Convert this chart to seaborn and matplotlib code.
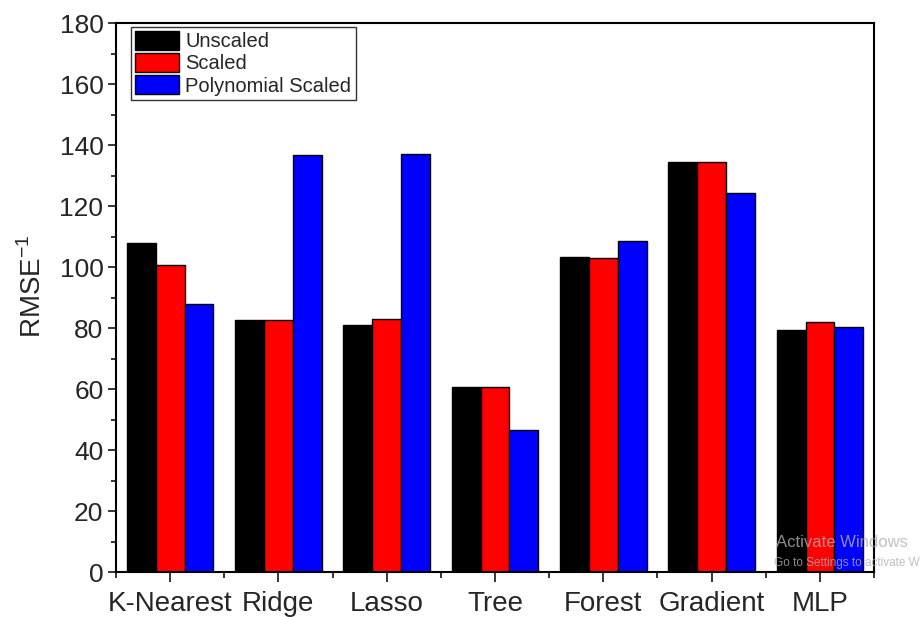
import matplotlib
matplotlib.use("Agg")
import matplotlib.pyplot as plt
import seaborn as sns
import pandas as pd
from matplotlib.ticker import MultipleLocator, FixedLocator

categories = ["K-Nearest", "Ridge", "Lasso", "Tree", "Forest", "Gradient", "MLP"]
unscaled = [108.0, 82.7, 80.9, 60.7, 103.2, 134.4, 79.4]
scaled = [100.8, 82.7, 83.0, 60.6, 103.0, 134.4, 81.9]
poly_scaled = [87.9, 136.8, 137.0, 46.5, 108.4, 124.4, 80.3]
series_names = ["Unscaled", "Scaled", "Polynomial Scaled"]
series_colors = ["#000000", "#ff0000", "#0000ff"]
y_ticks = [0, 20, 40, 60, 80, 100, 120, 140, 160, 180]

rows = []
for name, vals in zip(series_names, [unscaled, scaled, poly_scaled]):
    for c, v in zip(categories, vals):
        rows.append({"Model": c, "Series": name, "RMSE": v})
df = pd.DataFrame(rows)

sns.set_style("ticks")
plt.rcParams["font.family"] = ["Liberation Sans", "DejaVu Sans"]
plt.rcParams["mathtext.fontset"] = "custom"
plt.rcParams["mathtext.rm"] = "Liberation Sans"

fig = plt.figure(figsize=(9.24, 6.17), dpi=100)
ax = fig.add_axes([0.1255, 0.0729, 0.8205, 0.8898])

sns.barplot(data=df, x="Model", y="RMSE", hue="Series", order=categories,
            hue_order=series_names, palette=series_colors, width=0.8,
            edgecolor="black", linewidth=1.0, saturation=1, ax=ax, errorbar=None)

ax.set_xlim(-0.5, len(categories) - 0.5)
ax.set_ylim(0, 180)
ax.set_yticks(y_ticks)
ax.yaxis.set_minor_locator(MultipleLocator(10))
ax.xaxis.set_minor_locator(FixedLocator([i - 0.5 for i in range(len(categories) + 1)]))
ax.tick_params(axis="y", which="major", direction="out", length=6, width=1.3, labelsize=19, pad=3)
ax.tick_params(axis="y", which="minor", direction="out", length=3.5, width=1.3)
ax.tick_params(axis="x", which="major", direction="out", length=7, width=1.3, labelsize=20, pad=7)
ax.tick_params(axis="x", which="minor", direction="out", length=4, width=1.3)
ax.set_xlabel("")
ax.set_ylabel(r"RMSE$^{\mathregular{-1}}$", fontsize=20)
ax.yaxis.set_label_coords(-0.091, 0.52)
for s in ax.spines.values():
    s.set_visible(True)
    s.set_linewidth(1.5)
    s.set_color("black")

handles, labels = ax.get_legend_handles_labels()
leg = ax.legend(handles, labels, loc="upper left", bbox_to_anchor=(0.02, 0.993),
                fontsize=14.5, frameon=True, fancybox=False, edgecolor="black",
                handlelength=2.2, handleheight=1.05, labelspacing=0.1,
                handletextpad=0.3, borderpad=0.2, borderaxespad=0.0)
leg.get_frame().set_linewidth(1.0)

fig.text(0.84, 0.113, "Activate Windows", fontsize=12, color="#b0b0b0", alpha=0.8)
fig.text(0.838, 0.083, "Go to Settings to activate W", fontsize=8.5, color="#b0b0b0", alpha=0.8)

fig.savefig("out.png", dpi=100)
